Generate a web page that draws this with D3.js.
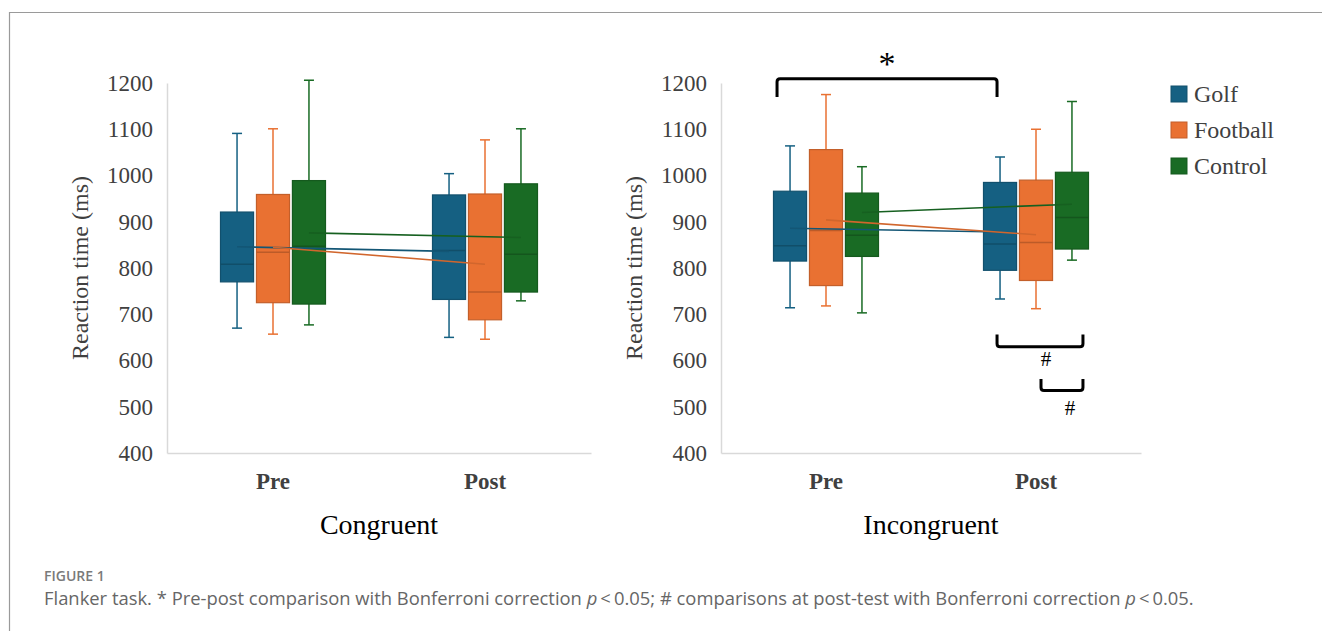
<!DOCTYPE html>
<html>
<head>
<meta charset="utf-8">
<script src="https://cdn.jsdelivr.net/npm/d3@7"></script>
<style>
  body { margin: 0; background: #fff; }
  svg { display: block; }
</style>
</head>
<body>
<div id="vis"></div>
<script>
// phases on the x axis and the three groups
const phases = ["Pre", "Post"];
const groups = ["Golf", "Football", "Control"];
const colors = ["#156082", "#E97132", "#196B24"];
const yTicks = [400, 500, 600, 700, 800, 900, 1000, 1100, 1200];

// box stats per group: [whiskerLow, q1, median, q3, whiskerHigh, mean], Pre then Post
const congruentGolf = [[670, 770, 808, 921, 1091, 846], [650, 732, 838, 958, 1004, 836]];
const congruentFootball = [[657, 725, 834, 959, 1101, 845], [646, 688, 748, 960, 1077, 808]];
const congruentControl = [[677, 722, 847, 989, 1206, 876], [729, 748, 830, 982, 1101, 866]];

const incongruentGolf = [[714, 815, 848, 966, 1064, 886], [733, 795, 852, 985, 1040, 878]];
const incongruentFootball = [[718, 762, 881, 1056, 1175, 904], [712, 773, 855, 990, 1100, 872]];
const incongruentControl = [[703, 825, 871, 962, 1019, 920], [817, 841, 909, 1007, 1160, 938]];

// significance marks on the incongruent panel
const starBracket = {from: ["Pre", "Golf"], to: ["Post", "Golf"], bar: 1209, leg: 1170, label: "*"};
const hashBrackets = [
    {from: ["Post", "Golf"], to: ["Post", "Control"], bar: 630, leg: 656, label: "#"},
    {from: ["Post", "Football"], to: ["Post", "Control"], bar: 535, leg: 560, label: "#"}
];

const width = 1322;
const height = 631;

var svg = d3.select("#vis")
    .append("svg")
    .attr("width", width)
    .attr("height", height);

// figure frame
svg.append("path")
    .attr("d", "M9.5," + height + "V12.5H" + width)
    .attr("fill", "none")
    .attr("stroke", "#9a9a9a")
    .attr("stroke-width", 1.2);

var y = d3.scaleLinear()
    .domain([400, 1200])
    .range([453, 83]);

var sub = d3.scaleBand()
    .domain(groups)
    .range([-52.5, 52.5])
    .paddingInner(0.08);

function toRows(golf, football, control) {
    const all = [golf, football, control];
    const rows = [];
    phases.forEach(function (p, pi) {
        groups.forEach(function (g, gi) {
            const s = all[gi][pi];
            rows.push({phase: p, group: g, color: colors[gi],
                lo: s[0], q1: s[1], med: s[2], q3: s[3], hi: s[4], mean: s[5]});
        });
    });
    return rows;
}

function drawPanel(x0, x1, rows, title) {
    var x = d3.scaleBand()
        .domain(phases)
        .range([x0, x1]);

    var g = svg.append("g");

    function cx(phase, group) {
        return x(phase) + x.bandwidth() / 2 + sub(group) + sub.bandwidth() / 2;
    }

    // axes
    var yAxis = g.append("g")
        .attr("transform", "translate(" + x0 + ",0)")
        .call(d3.axisLeft(y).tickValues(yTicks).tickSize(0).tickPadding(14).tickFormat(d3.format("d")));
    yAxis.select(".domain").attr("stroke", "#d9d9d9").attr("stroke-width", 1.5);
    yAxis.selectAll("text")
        .attr("font-family", "'Liberation Serif', 'Times New Roman', serif")
        .attr("font-size", 23)
        .attr("fill", "#404040");

    var xAxis = g.append("g")
        .attr("transform", "translate(0," + y(400) + ")")
        .call(d3.axisBottom(x).tickSize(0).tickPadding(20));
    xAxis.select(".domain").attr("stroke", "#d9d9d9").attr("stroke-width", 1.5);
    xAxis.selectAll("text")
        .attr("font-family", "'Liberation Serif', 'Times New Roman', serif")
        .attr("font-size", 23)
        .attr("font-weight", "bold")
        .attr("fill", "#404040");

    g.append("text")
        .attr("transform", "translate(" + (x0 - 79) + "," + ((y(400) + y(1200)) / 2) + ") rotate(-90)")
        .attr("text-anchor", "middle")
        .attr("font-family", "'Liberation Serif', 'Times New Roman', serif")
        .attr("font-size", 24)
        .attr("fill", "#404040")
        .text("Reaction time (ms)");

    g.append("text")
        .attr("x", (x0 + x1) / 2)
        .attr("y", 534)
        .attr("text-anchor", "middle")
        .attr("font-family", "'Liberation Serif', 'Times New Roman', serif")
        .attr("font-size", 28)
        .attr("fill", "#000")
        .text(title);

    // whiskers
    var bw = sub.bandwidth();
    var boxes = g.selectAll(".box")
        .data(rows)
        .enter().append("g")
        .attr("class", "box");

    boxes.append("line")
        .attr("x1", d => cx(d.phase, d.group))
        .attr("x2", d => cx(d.phase, d.group))
        .attr("y1", d => y(d.lo))
        .attr("y2", d => y(d.hi))
        .attr("stroke", d => d.color)
        .attr("stroke-width", 1.5);

    boxes.selectAll(".cap")
        .data(d => [d.lo, d.hi].map(v => ({v: v, d: d})))
        .enter().append("line")
        .attr("x1", c => cx(c.d.phase, c.d.group) - 5)
        .attr("x2", c => cx(c.d.phase, c.d.group) + 5)
        .attr("y1", c => y(c.v))
        .attr("y2", c => y(c.v))
        .attr("stroke", c => c.d.color)
        .attr("stroke-width", 1.5);

    boxes.append("rect")
        .attr("x", d => cx(d.phase, d.group) - bw / 2)
        .attr("width", bw)
        .attr("y", d => y(d.q3))
        .attr("height", d => y(d.q1) - y(d.q3))
        .attr("fill", d => d.color)
        .attr("stroke", d => d3.color(d.color).darker(0.5))
        .attr("stroke-width", 1.2);

    boxes.append("line")
        .attr("x1", d => cx(d.phase, d.group) - bw / 2)
        .attr("x2", d => cx(d.phase, d.group) + bw / 2)
        .attr("y1", d => y(d.med))
        .attr("y2", d => y(d.med))
        .attr("stroke", d => d3.color(d.color).darker(0.6))
        .attr("stroke-width", 1.5);

    // mean lines pre -> post
    groups.forEach(function (grp, gi) {
        var pts = rows.filter(r => r.group === grp);
        g.append("path")
            .datum(pts)
            .attr("fill", "none")
            .attr("stroke", d3.color(colors[gi]).darker(0.3))
            .attr("stroke-width", 1.6)
            .attr("d", d3.line()
                .x(d => cx(d.phase, d.group))
                .y(d => y(d.mean)));
    });

    return cx;
}

function bracket(cx, b, dx1, dx2, down, lx, ly, fontSize) {
    var xa = cx(b.from[0], b.from[1]) + dx1;
    var xb = cx(b.to[0], b.to[1]) + dx2;
    var yb = y(b.bar), yl = y(b.leg);
    var r = down ? 3 : -3;
    svg.append("path")
        .attr("d", "M" + xa + "," + yl + "V" + (yb + r) + "Q" + xa + "," + yb + " " + (xa + 3) + "," + yb +
            "H" + (xb - 3) + "Q" + xb + "," + yb + " " + xb + "," + (yb + r) + "V" + yl)
        .attr("fill", "none")
        .attr("stroke", "#000")
        .attr("stroke-width", 3);
    svg.append("text")
        .attr("x", (xa + xb) / 2 + lx)
        .attr("y", yb + ly)
        .attr("text-anchor", "middle")
        .attr("font-family", "'Liberation Serif', 'Times New Roman', serif")
        .attr("font-size", fontSize)
        .attr("fill", "#000")
        .text(b.label);
}

drawPanel(167, 591, toRows(congruentGolf, congruentFootball, congruentControl), "Congruent");
var cxR = drawPanel(721, 1141, toRows(incongruentGolf, incongruentFootball, incongruentControl), "Incongruent");

bracket(cxR, starBracket, -13, -3, true, 0, -4, 34);
bracket(cxR, hashBrackets[0], -3, 11, false, 6, 19, 21);
bracket(cxR, hashBrackets[1], 5, 11, false, 8, 24, 21);

// legend
var legend = svg.selectAll(".legend")
    .data(groups)
    .enter().append("g")
    .attr("class", "legend")
    .attr("transform", (d, i) => "translate(1171," + (86 + i * 36) + ")");

legend.append("rect")
    .attr("width", 16)
    .attr("height", 16)
    .attr("fill", (d, i) => colors[i])
    .attr("stroke", (d, i) => d3.color(colors[i]).darker(0.5));

legend.append("text")
    .attr("x", 23)
    .attr("y", 16)
    .attr("font-family", "'Liberation Serif', 'Times New Roman', serif")
    .attr("font-size", 24)
    .attr("fill", "#404040")
    .text(d => d);

// caption
svg.append("text")
    .attr("x", 44)
    .attr("y", 581)
    .attr("font-family", "'Open Sans', sans-serif")
    .attr("font-size", 14)
    .attr("font-weight", 600)
    .attr("fill", "#7a7a7a")
    .text("FIGURE 1");

var cap = svg.append("text")
    .attr("x", 44)
    .attr("y", 605)
    .attr("font-family", "'Open Sans', sans-serif")
    .attr("font-size", 18.4)
    .attr("fill", "#666");
cap.append("tspan").text("Flanker task. * Pre-post comparison with Bonferroni correction ");
cap.append("tspan").attr("font-style", "italic").text("p");
cap.append("tspan").text("\u2009<\u20090.05; # comparisons at post-test with Bonferroni correction ");
cap.append("tspan").attr("font-style", "italic").text("p");
cap.append("tspan").text("\u2009<\u20090.05.");
</script>
</body>
</html>
